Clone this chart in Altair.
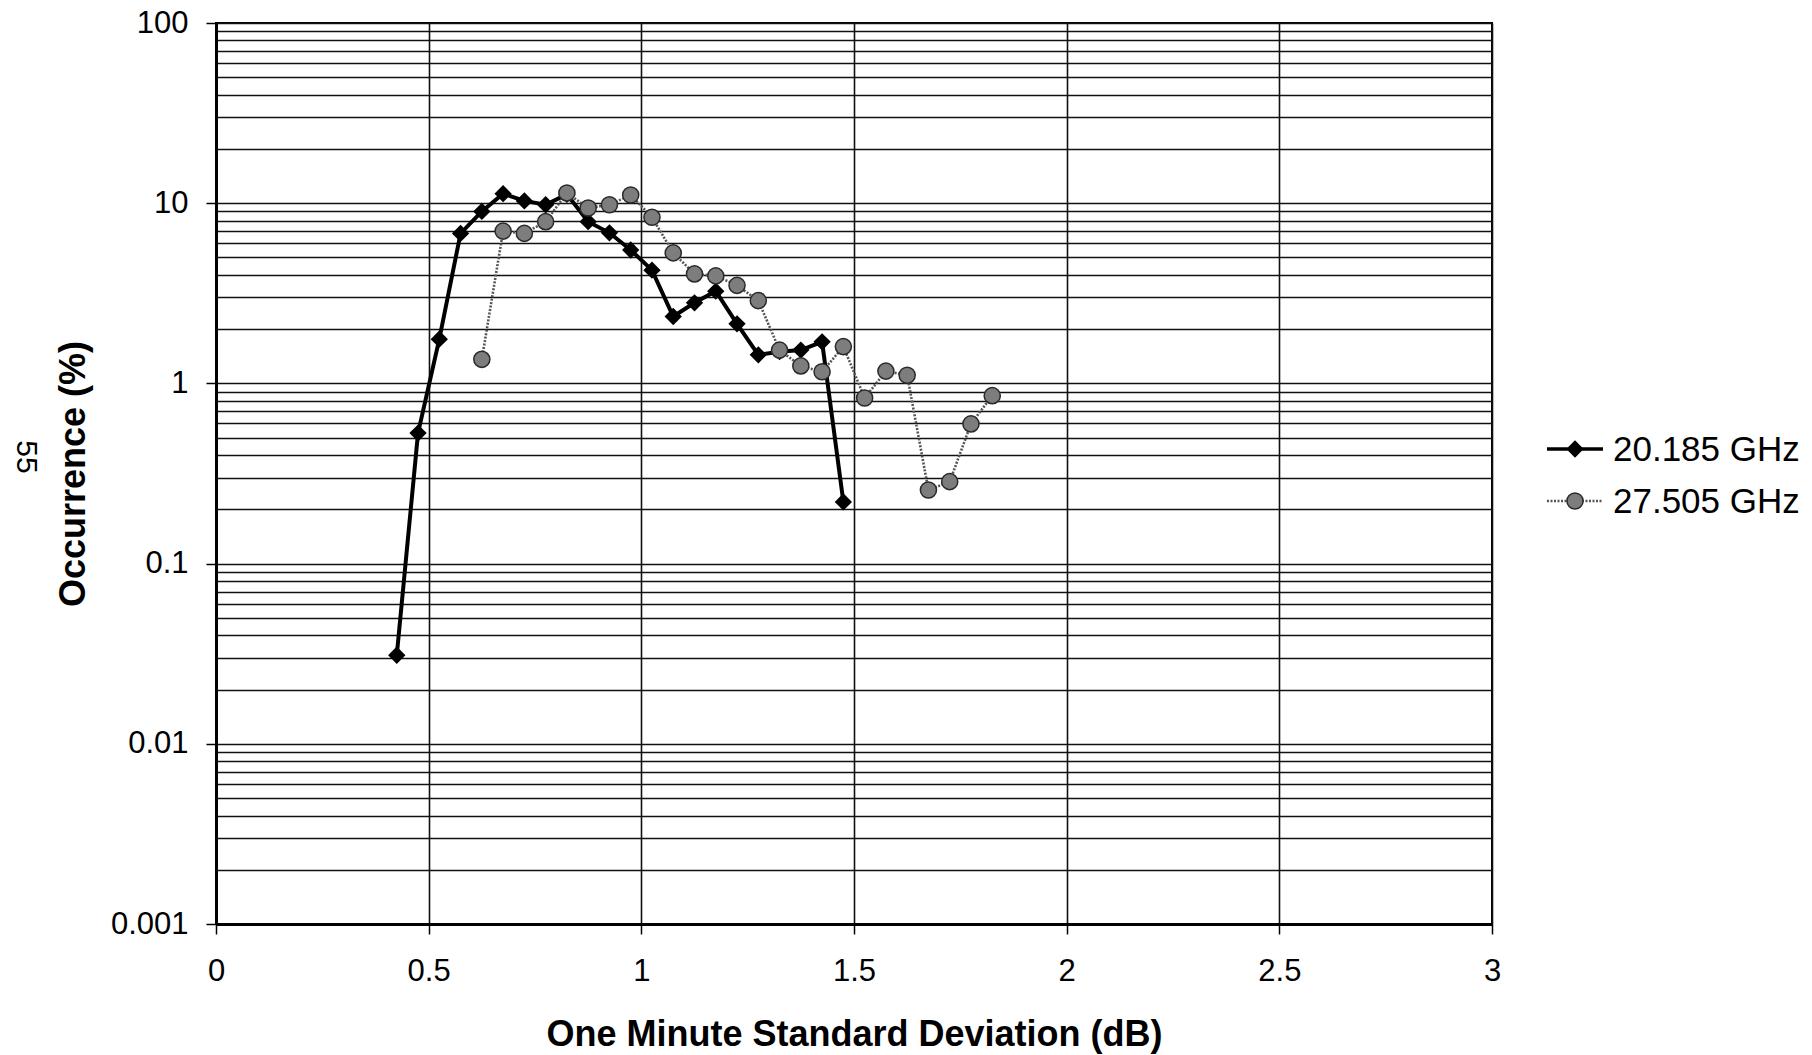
import altair as alt
import pandas as pd

# ---------------- data ----------------
series_names = ["20.185 GHz", "27.505 GHz"]

x_20 = [0.425, 0.475, 0.525, 0.575, 0.625, 0.675, 0.725, 0.775, 0.825, 0.875, 0.925,
        0.975, 1.025, 1.075, 1.125, 1.175, 1.225, 1.275, 1.325, 1.375, 1.425, 1.475]
y_20 = [0.031, 0.53, 1.76, 6.8, 9.0, 11.3, 10.3, 9.8, 11.2, 7.9, 6.85,
        5.5, 4.25, 2.35, 2.8, 3.25, 2.14, 1.44, 1.5, 1.53, 1.7, 0.22]

x_27 = [0.625, 0.675, 0.725, 0.775, 0.825, 0.875, 0.925, 0.975, 1.025, 1.075, 1.125,
        1.175, 1.225, 1.275, 1.325, 1.375, 1.425, 1.475, 1.525, 1.575, 1.625, 1.675,
        1.725, 1.775, 1.825]
y_27 = [1.36, 7.0, 6.8, 7.9, 11.4, 9.4, 9.8, 11.1, 8.35, 5.3, 4.05,
        3.95, 3.5, 2.88, 1.53, 1.25, 1.16, 1.6, 0.83, 1.17, 1.11, 0.256,
        0.285, 0.596, 0.855]

x_ticks = [0, 0.5, 1, 1.5, 2, 2.5, 3]
y_decades = ["100", "10", "1", "0.1", "0.01", "0.001"]
y_grid = [0.001, 0.002, 0.003, 0.004, 0.005, 0.006, 0.007, 0.008, 0.009,
          0.01, 0.02, 0.03, 0.04, 0.05, 0.06, 0.07, 0.08, 0.09,
          0.1, 0.2, 0.3, 0.4, 0.5, 0.6, 0.7, 0.8, 0.9,
          1, 2, 3, 4, 5, 6, 7, 8, 9,
          10, 20, 30, 40, 50, 60, 70, 80, 90, 100]

x_title = "One Minute Standard Deviation (dB)"
y_title = "Occurrence (%)"
page_number = "55"

# ---------------- tables ----------------
df = pd.concat([
    pd.DataFrame({"x": x_20, "y": y_20, "series": series_names[0]}),
    pd.DataFrame({"x": x_27, "y": y_27, "series": series_names[1]}),
], ignore_index=True)

W, H = 1276, 901
FONT = "Liberation Sans"
C2_LINE = "#555555"
C2_FILL = "#7d7d7d"
C2_STROKE = "#2a2a2a"
DIA_SIZE = 300
CIR_SIZE = 260

decade_test = "abs(log(datum.value)/LN10 - round(log(datum.value)/LN10)) < 0.001"

x_enc = alt.X("x:Q",
              scale=alt.Scale(domain=[0, 3], nice=False, zero=False),
              axis=alt.Axis(values=x_ticks, format="~g", title=x_title,
                            grid=True, gridColor="#111", gridWidth=1.6,
                            tickSize=10, tickColor="black", tickWidth=1.5,
                            labelFlush=False,
                            labelPadding=22, labelFontSize=31, labelFont=FONT,
                            labelColor="black",
                            titleFont=FONT, titleFontSize=36, titleFontWeight="bold",
                            titleColor="black", titleX=W / 2, titleY=121,
                            titleAlign="center", titleBaseline="alphabetic",
                            domainColor="black", domainWidth=3))
y_enc = alt.Y("y:Q",
              scale=alt.Scale(type="log", domain=[0.001, 100], nice=False),
              axis=alt.Axis(values=y_grid, format=".3~f",
                            labelExpr="indexof(" + str(y_decades) + ", datum.label) >= 0 ? datum.label : ''",
                            title=y_title,
                            grid=True, gridColor="#111", gridWidth=1.6,
                            tickSize=10, tickColor="black", tickWidth=1.5,
                            tickOpacity={"condition": {"test": decade_test, "value": 1}, "value": 0},
                            labelFlush=False,
                            labelPadding=18, labelFontSize=31, labelFont=FONT,
                            labelColor="black", labelBaseline="middle",
                            titleFont=FONT, titleFontSize=36, titleFontWeight="bold",
                            titleColor="black", titleAngle=-90, titleX=-132, titleY=H / 2,
                            titleAlign="center", titleBaseline="alphabetic",
                            domainColor="black", domainWidth=3))

base = alt.Chart(df)

line20 = base.transform_filter(alt.datum.series == series_names[0]).mark_line(
    color="black", strokeWidth=4).encode(x=x_enc, y=y_enc)
pts20 = base.transform_filter(alt.datum.series == series_names[0]).mark_point(
    shape="diamond", filled=True, color="black", size=DIA_SIZE, opacity=1).encode(x="x:Q", y="y:Q")
line27 = base.transform_filter(alt.datum.series == series_names[1]).mark_line(
    color=C2_LINE, strokeWidth=2.6, strokeDash=[2, 1.5]).encode(x="x:Q", y="y:Q")
pts27 = base.transform_filter(alt.datum.series == series_names[1]).mark_point(
    shape="circle", filled=True, fill=C2_FILL, stroke=C2_STROKE, strokeWidth=1.5,
    size=CIR_SIZE, opacity=1).encode(x="x:Q", y="y:Q")

# ---------------- manual legend (outside plot area) ----------------
leg1 = pd.DataFrame({"label": [series_names[0]]})
leg2 = pd.DataFrame({"label": [series_names[1]]})
LX0, LX1, TX = 1331, 1387, 1397
LY1, LY2 = 426, 478

l1_line = alt.Chart(leg1).mark_rule(color="black", strokeWidth=3.5).encode(
    x=alt.value(LX0), x2=alt.value(LX1), y=alt.value(LY1))
l1_pt = alt.Chart(leg1).mark_point(shape="diamond", filled=True, color="black",
                                   size=DIA_SIZE, opacity=1).encode(
    x=alt.value((LX0 + LX1) / 2), y=alt.value(LY1))
l1_txt = alt.Chart(leg1).mark_text(align="left", baseline="middle", font=FONT,
                                   fontSize=35, color="black").encode(
    x=alt.value(TX), y=alt.value(LY1 + 1), text="label:N")

l2_line = alt.Chart(leg2).mark_rule(color=C2_LINE, strokeWidth=2.6, strokeDash=[2, 1.5]).encode(
    x=alt.value(LX0), x2=alt.value(LX1), y=alt.value(LY2))
l2_pt = alt.Chart(leg2).mark_point(shape="circle", filled=True, fill=C2_FILL,
                                   stroke=C2_STROKE, strokeWidth=1.5, size=CIR_SIZE,
                                   opacity=1).encode(
    x=alt.value((LX0 + LX1) / 2), y=alt.value(LY2))
l2_txt = alt.Chart(leg2).mark_text(align="left", baseline="middle", font=FONT,
                                   fontSize=35, color="black").encode(
    x=alt.value(TX), y=alt.value(LY2 + 1), text="label:N")

page = alt.Chart(pd.DataFrame({"t": [page_number]})).mark_text(
    font=FONT, fontSize=30, angle=90, align="center", baseline="middle",
    color="black").encode(x=alt.value(-190), y=alt.value(434), text="t:N")

chart = alt.layer(line20, pts20, line27, pts27,
                  l1_line, l1_pt, l1_txt, l2_line, l2_pt, l2_txt, page).properties(
    width=W, height=H,
    autosize=alt.AutoSizeParams(type="none"),
    padding={"left": 216, "top": 23, "right": 1812 - 216 - W, "bottom": 1055 - 23 - H},
    background="white",
).configure_view(stroke="black", strokeWidth=2)

chart.save("out.html", embed_options={"renderer": "svg", "actions": False})
